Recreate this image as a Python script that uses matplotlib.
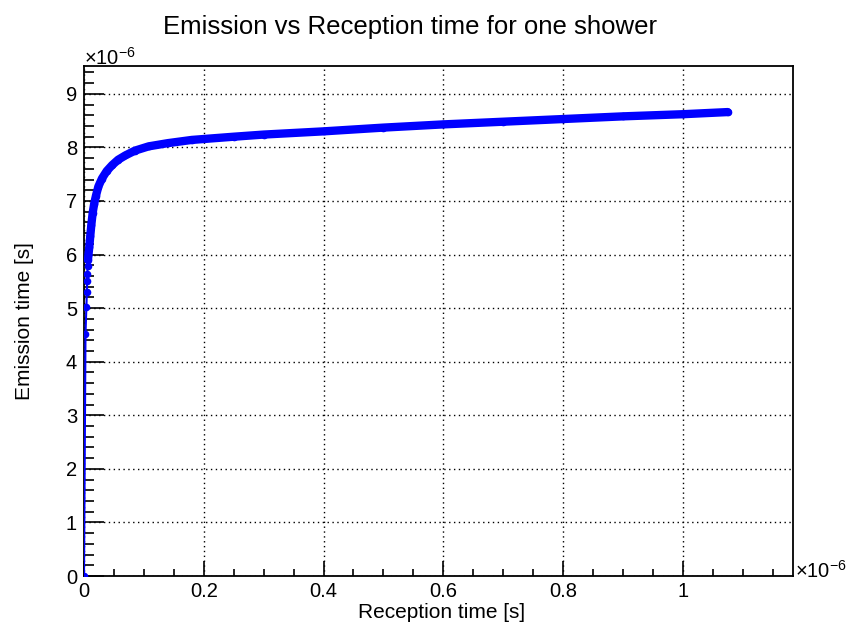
import matplotlib
matplotlib.use('Agg')
import matplotlib.pyplot as plt
from matplotlib.ticker import MultipleLocator, FuncFormatter

plt.rcParams['font.family'] = 'Liberation Sans'
plt.rcParams['mathtext.fontset'] = 'custom'
plt.rcParams['mathtext.rm'] = 'Liberation Sans'

# values in units of 1e-6 s
reception = [0.0, 0.0025, 0.0040, 0.0048, 0.0052, 0.0056, 0.0060, 0.0066,
             0.0075, 0.0089, 0.0105, 0.0122, 0.0145, 0.0170, 0.0200, 0.0240,
             0.030, 0.038, 0.047, 0.057, 0.069, 0.085, 0.108, 0.140, 0.180,
             0.250, 0.300, 0.400, 0.500, 0.600, 0.700, 0.800, 0.900, 1.000,
             1.075]
emission = [0.0, 4.52, 5.03, 5.31, 5.50, 5.64, 5.78, 5.90,
            6.00, 6.15, 6.35, 6.55, 6.78, 6.95, 7.10, 7.27,
            7.42, 7.56, 7.67, 7.77, 7.85, 7.94, 8.02, 8.08, 8.14,
            8.20, 8.24, 8.30, 8.37, 8.43, 8.48, 8.53, 8.58, 8.62,
            8.66]
dense_from = 7  # markers merge into a band from here on

fig = plt.figure(figsize=(8.48, 6.33), dpi=100)
ax = fig.add_axes([84/848, 57/633, 709/848, 510/633])

blue = '#0000ff'
ax.plot(reception, emission, color=blue, lw=1.5, marker='o', ms=5.5,
        markeredgewidth=0, zorder=3)
ax.plot(reception[dense_from:], emission[dense_from:], color=blue, lw=6.0,
        solid_capstyle='round', zorder=3)

ax.set_xlim(0, 1.184)
ax.set_ylim(0, 9.52)

ax.xaxis.set_major_locator(MultipleLocator(0.2))
ax.xaxis.set_minor_locator(MultipleLocator(0.05))
ax.yaxis.set_major_locator(MultipleLocator(1))
ax.yaxis.set_minor_locator(MultipleLocator(0.2))
fmt = FuncFormatter(lambda v, p: '%g' % round(v, 6))
ax.xaxis.set_major_formatter(fmt)
ax.yaxis.set_major_formatter(fmt)

ax.tick_params(axis='both', which='both', direction='in', top=False,
               right=False, labelsize=14.5, width=1.2, color='black')
ax.tick_params(axis='y', which='major', length=14.4, pad=5)
ax.tick_params(axis='y', which='minor', length=7.2)
ax.tick_params(axis='x', which='major', length=10.8, pad=4)
ax.tick_params(axis='x', which='minor', length=5.4)

ax.grid(True, which='major', color='black', linestyle=(0, (1, 2.5)), lw=1.0)
for s in ax.spines.values():
    s.set_linewidth(1.3)

fig.text(410/848, 1 - 27/633, 'Emission vs Reception time for one shower',
         ha='center', va='center', fontsize=18.5)
fig.text(442/848, 1 - 612/633, 'Reception time [s]', ha='center',
         va='center', fontsize=15)
fig.text(25/848, 1 - 321/633, 'Emission time [s]', ha='center',
         va='center', fontsize=15, rotation=90)

fig.text(84/848, 1 - 65/633, r'$\times10^{-6}$', ha='left', va='baseline',
         fontsize=14.5)
fig.text(795/848, 1 - 578/633, r'$\times10^{-6}$', ha='left', va='baseline',
         fontsize=14.5)

fig.savefig('out.png', dpi=100)
